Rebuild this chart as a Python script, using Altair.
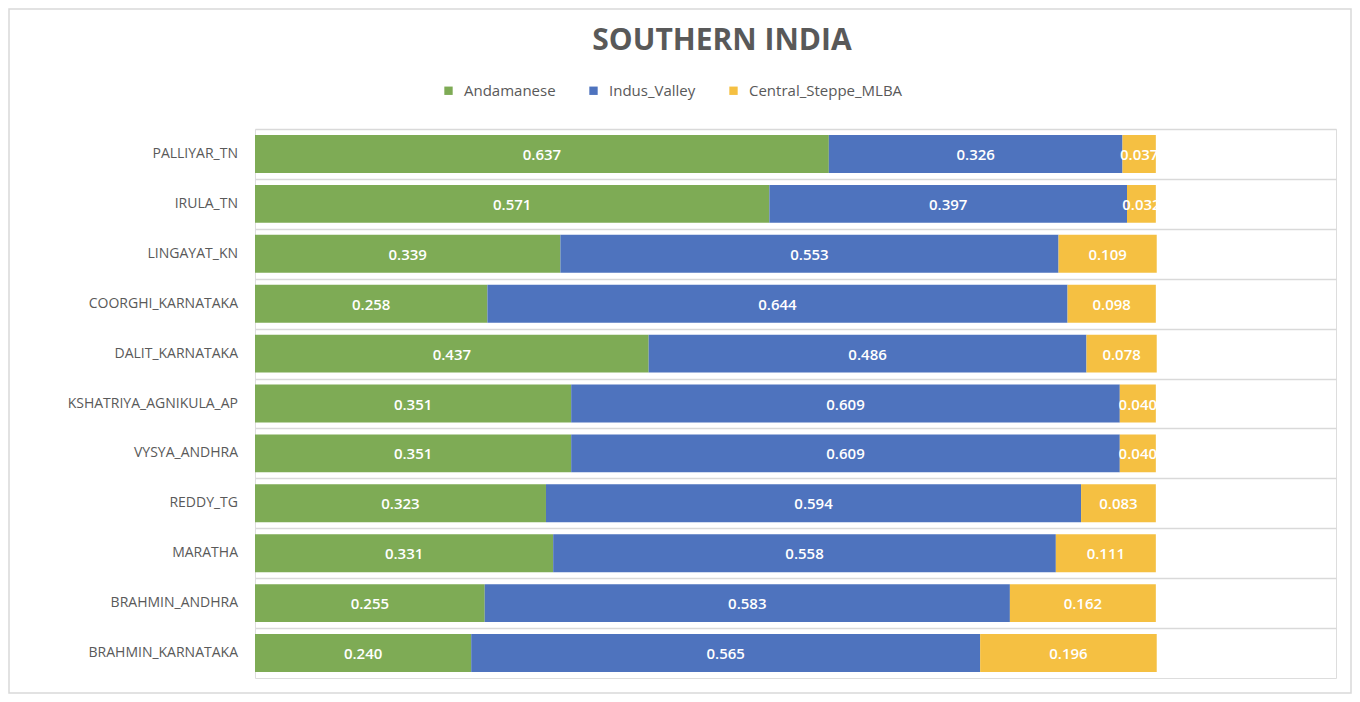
import altair as alt
import pandas as pd

groups = ["PALLIYAR_TN", "IRULA_TN", "LINGAYAT_KN", "COORGHI_KARNATAKA", "DALIT_KARNATAKA",
          "KSHATRIYA_AGNIKULA_AP", "VYSYA_ANDHRA", "REDDY_TG", "MARATHA",
          "BRAHMIN_ANDHRA", "BRAHMIN_KARNATAKA"]
series = ["Andamanese", "Indus_Valley", "Central_Steppe_MLBA"]
andamanese = [0.637, 0.571, 0.339, 0.258, 0.437, 0.351, 0.351, 0.323, 0.331, 0.255, 0.240]
indus_valley = [0.326, 0.397, 0.553, 0.644, 0.486, 0.609, 0.609, 0.594, 0.558, 0.583, 0.565]
steppe = [0.037, 0.032, 0.109, 0.098, 0.078, 0.040, 0.040, 0.083, 0.111, 0.162, 0.196]
colors = ["#7EAB55", "#4E73BE", "#F5C042"]

rows = []
for i, g in enumerate(groups):
    for k, (s, vals) in enumerate(zip(series, [andamanese, indus_valley, steppe])):
        rows.append({"group": g, "series": s, "order": k, "value": vals[i]})
df = pd.DataFrame(rows)

W, H = 1081, 549

base = alt.Chart(df).transform_stack(
    stack="value", groupby=["group"], as_=["x0", "x1"], sort=[alt.SortField("order")]
).transform_calculate(mid="(datum.x0 + datum.x1) / 2",
                      label="format(datum.value, '.3f')")

yenc = alt.Y("group:N", sort=groups,
             scale=alt.Scale(paddingInner=0.24, paddingOuter=0.12),
             axis=alt.Axis(title=None, labels=False, ticks=False, domain=False,
                           grid=True, gridColor="#d9d9d9", gridWidth=1.5,
                           bandPosition=0, tickOffset=-6))
xscale = alt.Scale(domain=[0, 1.2], nice=False, zero=True)

bars = base.mark_bar(cornerRadius=0).encode(
    x=alt.X("x0:Q", scale=xscale, axis=None),
    x2="x1:Q",
    y=yenc,
    color=alt.Color("series:N", sort=series,
                    scale=alt.Scale(domain=series, range=colors),
                    legend=alt.Legend(title=None, orient="none", direction="horizontal",
                                      legendX=186, legendY=-46, symbolType="square",
                                      symbolSize=70, symbolStrokeWidth=0,
                                      labelFont="Open Sans", labelFontSize=15,
                                      labelColor="#595959", labelOffset=8,
                                      columnPadding=30)),
)

labels = base.mark_text(color="white", font="Open Sans", fontSize=15, fontWeight=600,
                        dy=1).encode(
    x=alt.X("mid:Q", scale=xscale),
    y=alt.Y("group:N", sort=groups),
    text="label:N",
)

ylabels = alt.Chart(pd.DataFrame({"group": groups})).mark_text(
    align="right", baseline="middle", font="Open Sans", fontSize=14,
    color="#595959").encode(
    x=alt.value(-17),
    y=alt.Y("group:N", sort=groups),
    text="group:N",
)

title = alt.Chart(pd.DataFrame({"t": ["SOUTHERN INDIA"]})).mark_text(
    align="center", baseline="middle", font="Open Sans", fontSize=30,
    fontWeight="bold", color="#595959").encode(
    x=alt.value(467), y=alt.value(-88), text="t:N")

frame = alt.Chart(pd.DataFrame({"a": [0]})).mark_rect(
    fill=None, stroke="#d9d9d9", strokeWidth=1.5).encode(
    x=alt.value(-246), x2=alt.value(1096), y=alt.value(-120), y2=alt.value(564))

chart = alt.layer(frame, bars, labels, ylabels, title).resolve_scale(y="shared").properties(
    width=W, height=H,
    autosize=alt.AutoSizeParams(type="none"),
    padding={"left": 247, "top": 121, "right": 16, "bottom": 16},
).configure_view(stroke="#d9d9d9", strokeWidth=1.5).configure(background="white")

chart.save("out.html", embed_options={"renderer": "svg", "actions": False})
